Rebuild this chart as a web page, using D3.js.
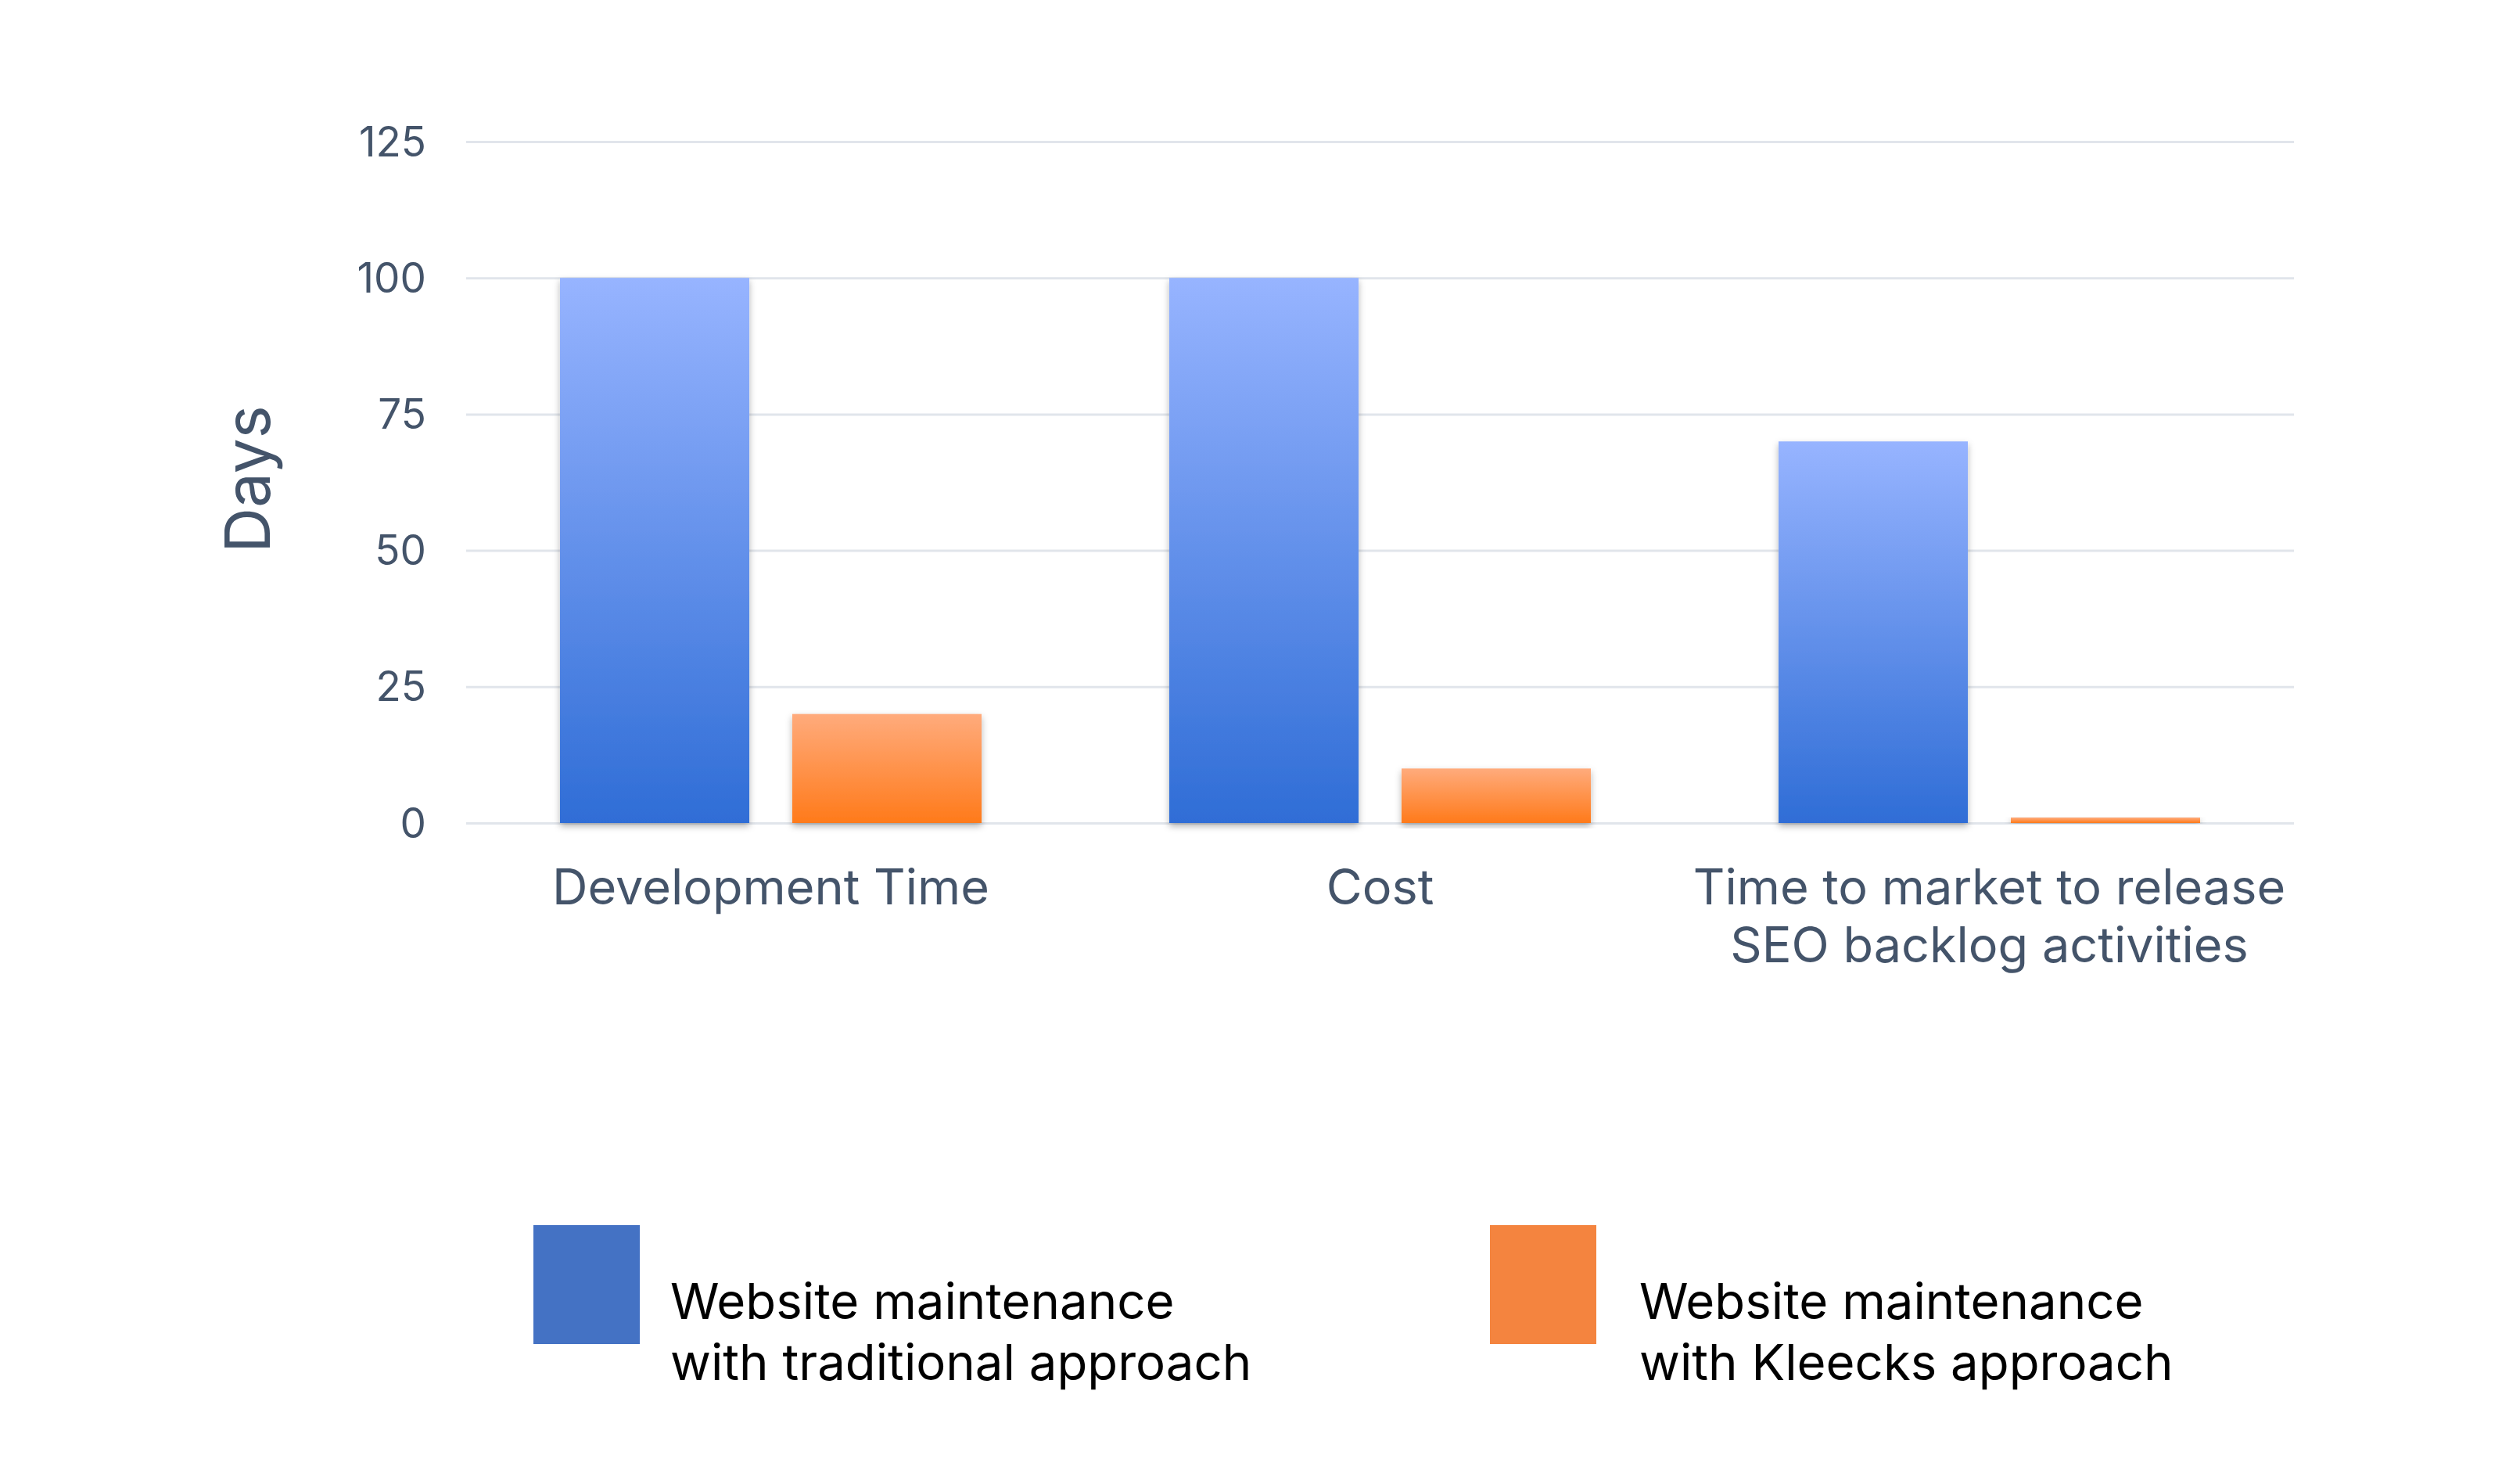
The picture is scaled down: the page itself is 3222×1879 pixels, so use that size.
<!DOCTYPE html>
<html>
<head>
<meta charset="utf-8">
<script src="https://cdn.jsdelivr.net/npm/d3@7"></script>
<style>
  html, body { margin: 0; padding: 0; background: #fff; }
  text { font-family: Inter, "Open Sans", sans-serif; }
</style>
</head>
<body>
<div id="chart"></div>
<script>
// data
const categories = ["Development Time", "Cost", "Time to market to release SEO backlog activities"];
const categoryLines = [["Development Time"], ["Cost"], ["Time to market to release", "SEO backlog activities"]];
const seriesNames = ["Website maintenance with traditional approach", "Website maintenance with Kleecks approach"];
const legendLines = [["Website maintenance", "with traditional approach"], ["Website maintenance", "with Kleecks approach"]];
const traditionalValues = [100, 100, 70];
const kleecksValues = [20, 10, 1];
const yTicks = [0, 25, 50, 75, 100, 125];

const W = 3222, H = 1879;
const margin = { top: 181, right: 289, bottom: 827, left: 596 },
  width = W - margin.left - margin.right,
  height = H - margin.top - margin.bottom;

const axisColor = "#44546a";

const svg = d3.select("#chart")
  .append("svg")
  .attr("width", W)
  .attr("height", H);

const defs = svg.append("defs");

// gradients for the bars
const gradStops = [
  { id: "gradBlue", top: "#97b4ff", bottom: "#2f6dd6" },
  { id: "gradOrange", top: "#ffab7c", bottom: "#ff7a1a" }
];
gradStops.forEach(g => {
  const lg = defs.append("linearGradient")
    .attr("id", g.id)
    .attr("x1", 0).attr("y1", 0).attr("x2", 0).attr("y2", 1);
  lg.append("stop").attr("offset", "0%").attr("stop-color", g.top);
  lg.append("stop").attr("offset", "100%").attr("stop-color", g.bottom);
});

defs.append("filter")
  .attr("id", "shadow")
  .attr("x", "-10%").attr("y", "-10%").attr("width", "120%").attr("height", "120%")
  .append("feDropShadow")
  .attr("dx", 0).attr("dy", 4)
  .attr("stdDeviation", 4)
  .attr("flood-color", "#000")
  .attr("flood-opacity", 0.3);

const g = svg.append("g")
  .attr("transform", "translate(" + margin.left + "," + margin.top + ")");

// scales
const x0 = d3.scaleBand()
  .domain(categories)
  .range([0, width])
  .padding(0);

const x1 = d3.scaleBand()
  .domain(seriesNames)
  .range([0, x0.bandwidth()])
  .paddingInner(0.185)
  .paddingOuter(0.404);

const y = d3.scaleLinear()
  .domain([0, 125])
  .range([height, 0]);

// y axis with gridlines
const yAxis = g.append("g")
  .call(d3.axisLeft(y)
    .tickValues(yTicks)
    .tickSize(-width)
    .tickPadding(51));

yAxis.select(".domain").remove();
yAxis.selectAll(".tick line")
  .attr("stroke", "#e1e5eb")
  .attr("stroke-width", 3);
yAxis.selectAll(".tick text")
  .attr("fill", axisColor)
  .style("font-size", "53px")
  .attr("dy", "0.34em");

// bars
const rows = categories.map((c, i) => ({
  category: c,
  values: [
    { series: seriesNames[0], value: traditionalValues[i], fill: "url(#gradBlue)" },
    { series: seriesNames[1], value: kleecksValues[i], fill: "url(#gradOrange)" }
  ]
}));

g.append("g")
  .selectAll("g")
  .data(rows)
  .join("g")
  .attr("transform", d => "translate(" + x0(d.category) + ",0)")
  .selectAll("rect")
  .data(d => d.values)
  .join("rect")
  .attr("x", d => x1(d.series))
  .attr("y", d => y(d.value))
  .attr("width", x1.bandwidth())
  .attr("height", d => y(0) - y(d.value))
  .attr("fill", d => d.fill)
  .attr("filter", "url(#shadow)");

// category labels
const catLabels = g.append("g")
  .selectAll("text")
  .data(categories)
  .join("text")
  .attr("x", d => x0(d) + x0.bandwidth() / 2)
  .attr("y", height + 104)
  .attr("text-anchor", "middle")
  .attr("fill", axisColor)
  .style("font-size", "63px");

catLabels.selectAll("tspan")
  .data((d, i) => categoryLines[i])
  .join("tspan")
  .attr("x", function() { return d3.select(this.parentNode).attr("x"); })
  .attr("dy", (d, i) => i === 0 ? 0 : 74)
  .text(d => d);

// y axis title
svg.append("text")
  .attr("transform", "translate(345," + (margin.top + height / 2 - 4) + ") rotate(-90)")
  .attr("text-anchor", "middle")
  .attr("fill", axisColor)
  .style("font-size", "80px")
  .text("Days");

// legend
const legendColors = ["#4472c4", "#f4843f"];
const legendX = [682, 1905];

const legend = svg.append("g")
  .selectAll("g")
  .data(seriesNames)
  .join("g")
  .attr("transform", (d, i) => "translate(" + legendX[i] + ",1566)");

legend.append("rect")
  .attr("width", 136)
  .attr("height", 152)
  .attr("fill", (d, i) => legendColors[i]);

legend.append("text")
  .attr("x", (d, i) => i === 0 ? 175 : 191)
  .attr("y", 120)
  .attr("fill", "#000")
  .style("font-size", "63.5px")
  .selectAll("tspan")
  .data((d, i) => legendLines[i])
  .join("tspan")
  .attr("x", function() { return d3.select(this.parentNode).attr("x"); })
  .attr("dy", (d, i) => i === 0 ? 0 : 78)
  .text(d => d);
</script>
</body>
</html>
